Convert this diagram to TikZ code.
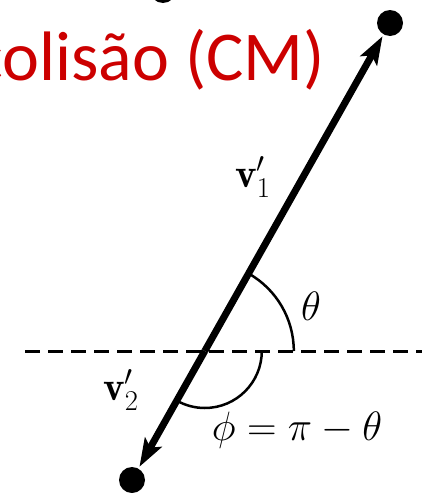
\RequirePackage{fix-cm}
\documentclass[tikz,border=0pt]{standalone}
\usepackage{fontspec}
\newfontfamily\titlefont{Carlito}
\usetikzlibrary{arrows.meta}
\definecolor{titlered}{RGB}{204,0,0}
\begin{document}
\begin{tikzpicture}[x=1pt,y=-1pt,
  dotnode/.style={circle,fill=black,inner sep=0pt,minimum size=26pt},
  vecline/.style={line width=7pt,-{Stealth[length=28pt,width=19pt,inset=6pt]},shorten >=2pt},
  baseline/.style={line width=3pt,dash pattern=on 15pt off 8pt},
  anglearc/.style={line width=2.5pt},
  lbl/.style={inner sep=0pt,font=\fontsize{41}{44}\selectfont}]
\useasboundingbox (0,0) rectangle (422,493);
\clip (0,0) rectangle (422,493);
% title
\node[anchor=base east,inner sep=0pt,text=titlered,font=\titlefont\fontsize{70}{80}\selectfont] (title) at (325,80) {colisão (CM)};
% partial dot at top edge
\node[dotnode] (topcut) at (163,-10) {};
% dashed horizontal
\coordinate (L) at (25,351);
\coordinate (R) at (422,351);
\draw[baseline] (L) -- (R);
% points
\coordinate (O) at (204.8,351);
\node[dotnode] (T) at (390,23) {};
\node[dotnode] (B) at (132,480) {};
\draw[vecline] (O) -- (T);
\draw[vecline] (O) -- (B);
% angle arcs
\draw[anglearc] ([shift={(0:89)}]O) arc[start angle=0,end angle=-60.5,radius=89];
\draw[anglearc] ([shift={(0:57)}]O) arc[start angle=0,end angle=119.5,radius=57];
% labels
\node[lbl,anchor=base west] (v1) at (235,187) {$\mathbf{v}'_1$};
\node[lbl,anchor=base west] (v2) at (103,400) {$\mathbf{v}'_2$};
\node[lbl] (th) at (311,306) {$\theta$};
\node[lbl,anchor=base] (phi) at (297,440) {$\phi=\pi-\theta$};
\end{tikzpicture}
\end{document}
